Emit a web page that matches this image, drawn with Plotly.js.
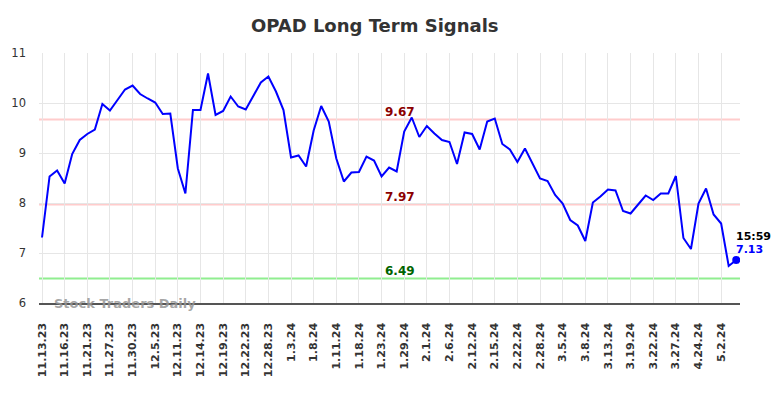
<!DOCTYPE html>
<html>
<head>
<meta charset="utf-8">
<script src="https://cdn.plot.ly/plotly-3.0.1.min.js"></script>
<style>html,body{margin:0;padding:0;background:#fff;}#chart{width:784px;height:398px;}</style>
</head>
<body>
<div id="chart"></div>
<script>
const tickLabels = ["11.13.23","11.16.23","11.21.23","11.27.23","11.30.23","12.5.23","12.11.23","12.14.23","12.19.23","12.22.23","12.28.23","1.3.24","1.8.24","1.11.24","1.18.24","1.23.24","1.29.24","2.1.24","2.6.24","2.12.24","2.15.24","2.22.24","2.28.24","3.5.24","3.8.24","3.13.24","3.19.24","3.22.24","3.27.24","4.24.24","5.2.24"];
const prices = [7.31,8.53,8.65,8.39,8.98,9.26,9.38,9.47,9.98,9.85,
10.06,10.27,10.35,10.18,10.09,10.01,9.78,9.79,8.69,8.19,
9.86,9.86,10.59,9.76,9.84,10.13,9.93,9.87,10.14,10.41,
10.53,10.23,9.86,8.91,8.95,8.73,9.45,9.94,9.63,8.89,
8.43,8.61,8.62,8.93,8.85,8.53,8.71,8.63,9.43,9.71,
9.32,9.54,9.39,9.26,9.22,8.78,9.41,9.38,9.07,9.63,
9.69,9.18,9.07,8.82,9.09,8.79,8.49,8.44,8.16,7.99,
7.66,7.55,7.24,8.01,8.13,8.27,8.25,7.84,7.79,7.97,
8.15,8.06,8.19,8.19,8.54,7.30,7.08,7.99,8.29,7.77,
7.59,6.74,6.86];
const signalLevels = [9.67, 7.97, 6.49];
const signalLabels = ["9.67", "7.97", "6.49"];
const lastTime = "15:59";
const lastLabel = "7.13";
const title = "OPAD Long Term Signals";
const watermark = "Stock Traders Daily";

const xIdx = prices.map((_, i) => i);
const tickVals = tickLabels.map((_, i) => i * 3);
const lastI = prices.length - 1;
const labelX = 47.4;

const lineColors = ["#ffcccc", "#ffcccc", "#90ee90"];
const textColors = ["#8b0000", "#8b0000", "#006400"];

const shapes = signalLevels.map((v, k) => ({
  type: "line", xref: "paper", x0: 0, x1: 1, yref: "y", y0: v, y1: v,
  line: {color: lineColors[k], width: 2}, layer: "below"
}));

const annotations = signalLevels.map((v, k) => ({
  x: labelX, y: v, xref: "x", yref: "y", text: "<b>" + signalLabels[k] + "</b>",
  showarrow: false, yanchor: "bottom", yshift: -1,
  font: {family: "DejaVu Sans", size: 12, color: textColors[k]}
}));
annotations.push({
  x: lastI, y: prices[lastI], xref: "x", yref: "y", text: "<b>" + lastTime + "</b>",
  showarrow: false, xanchor: "left", yanchor: "middle", xshift: -2, yshift: 24,
  font: {family: "DejaVu Sans", size: 11, color: "#000"}
});
annotations.push({
  x: lastI, y: prices[lastI], xref: "x", yref: "y", text: "<b>" + lastLabel + "</b>",
  showarrow: false, xanchor: "left", yanchor: "middle", xshift: -2, yshift: 11,
  font: {family: "DejaVu Sans", size: 11, color: "#0000ff"}
});
annotations.push({
  x: 1.3, y: 6, xref: "x", yref: "y", text: "<b>" + watermark + "</b>",
  showarrow: false, xanchor: "left", yanchor: "middle",
  font: {family: "DejaVu Sans", size: 13, color: "rgba(150,150,150,0.85)"}
});

const traces = [
  {x: xIdx, y: prices, type: "scatter", mode: "lines", line: {color: "#0000ff", width: 2}, hoverinfo: "skip"},
  {x: [lastI], y: [prices[lastI]], type: "scatter", mode: "markers", marker: {color: "#0000ff", size: 8}, hoverinfo: "skip"}
];

const layout = {
  width: 784, height: 398,
  margin: {l: 39, r: 44, t: 53, b: 95},
  paper_bgcolor: "#fff", plot_bgcolor: "#fff",
  showlegend: false,
  title: {text: "<b>" + title + "</b>", x: 0.478, xref: "container", xanchor: "center", y: 0.935, yref: "container", yanchor: "middle",
    font: {family: "DejaVu Sans", size: 18, color: "#333"}},
  xaxis: {
    range: [-0.4, lastI + 0.5], tickmode: "array", tickvals: tickVals, ticktext: tickLabels,
    tickangle: -90, showgrid: true, gridcolor: "#e6e6e6", gridwidth: 1,
    showline: true, linecolor: "#555", linewidth: 1.5, zeroline: false,
    ticks: "", ticklabelstandoff: 14,
    tickfont: {family: "DejaVu Sans", size: 11, color: "#333", weight: "bold"}
  },
  yaxis: {
    range: [6, 11], tickvals: [6,7,8,9,10,11], showgrid: true, gridcolor: "#e6e6e6", gridwidth: 1,
    zeroline: false, showline: false, ticks: "", ticklabelstandoff: 12,
    tickfont: {family: "DejaVu Sans", size: 11.5, color: "#333"}
  },
  shapes: shapes,
  annotations: annotations
};

Plotly.newPlot("chart", traces, layout, {staticPlot: true, displayModeBar: false});
</script>
</body>
</html>
